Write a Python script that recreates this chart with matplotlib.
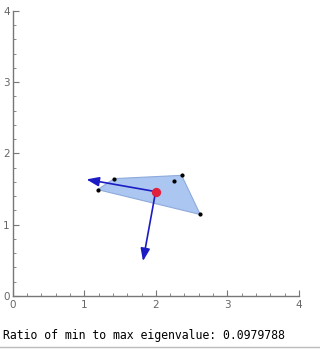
import matplotlib
matplotlib.use("Agg")
import matplotlib.pyplot as plt
from matplotlib.patches import Polygon, FancyArrowPatch
import numpy as np

# data
pts_x = [1.419, 2.36, 2.249, 1.187, 2.62]
pts_y = [1.646, 1.692, 1.613, 1.492, 1.143]
hull_x = [1.187, 1.419, 2.36, 2.62]
hull_y = [1.492, 1.646, 1.692, 1.143]
center = (1.997, 1.464)
arrow_tips_x = [1.03, 1.82]
arrow_tips_y = [1.635, 0.49]
ratio_text = "Ratio of min to max eigenvalue: 0.0979788"

fig = plt.figure(figsize=(3.2, 3.52), dpi=100)
ax = fig.add_axes([0.0397, 0.159, 0.8947, 0.8106])
ax.set_xlim(0, 4)
ax.set_ylim(0, 4)

poly = Polygon(np.column_stack([hull_x, hull_y]), closed=True,
               facecolor="#abc6f0", edgecolor="#8eaadc", lw=0.8, zorder=2)
ax.add_patch(poly)
ax.scatter(pts_x, pts_y, s=4, color="black", zorder=4)

for tx, ty in zip(arrow_tips_x, arrow_tips_y):
    ar = FancyArrowPatch(center, (tx, ty), arrowstyle="-|>,head_length=7.5,head_width=2.8",
                         color="#1c1cc4", lw=1.2, shrinkA=0, shrinkB=0, zorder=3,
                         mutation_scale=1)
    ax.add_patch(ar)
ax.scatter([center[0]], [center[1]], s=32, color="#e0203c", zorder=5)

for s in ["top", "right"]:
    ax.spines[s].set_visible(False)
for s in ["left", "bottom"]:
    ax.spines[s].set_color("#777777")
    ax.spines[s].set_linewidth(1.0)

ax.set_xticks([0, 1, 2, 3, 4])
ax.set_yticks([0, 1, 2, 3, 4])
ax.set_xticks(np.arange(0, 4.01, 0.2), minor=True)
ax.set_yticks(np.arange(0, 4.01, 0.2), minor=True)
ax.tick_params(which="major", direction="in", length=4, width=0.8, color="#777777",
               labelsize=7.5, labelcolor="#666666", pad=3)
ax.tick_params(which="minor", direction="in", length=2.2, width=0.6, color="#777777")
ax.set_yticklabels(["0", "1", "2", "3", "4"])
ax.tick_params(axis="y", pad=2)

fig.text(3 / 320, 1 - 336 / 352, ratio_text, family="DejaVu Sans Mono",
         fontsize=8.3, va="center", ha="left", color="black")
fig.add_artist(plt.Line2D([0, 1], [1 - 346.5 / 352] * 2, color="#bbbbbb", lw=1,
                          transform=fig.transFigure))

fig.savefig("out.png", dpi=100)
